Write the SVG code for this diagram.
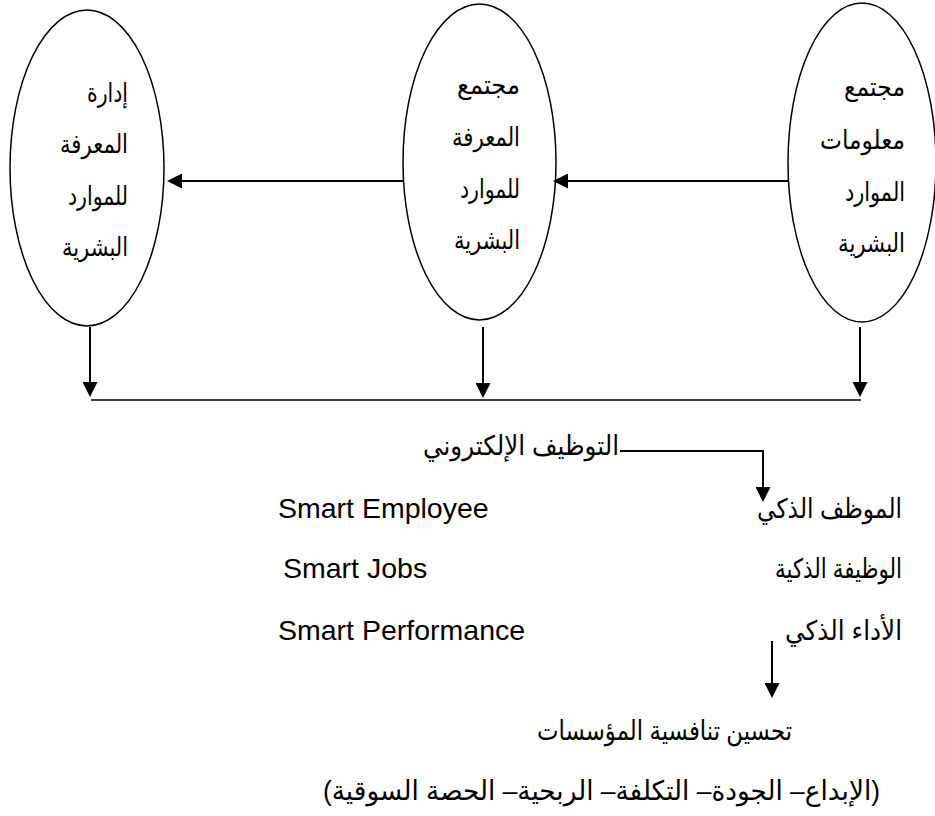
<svg xmlns="http://www.w3.org/2000/svg" width="935" height="816" viewBox="0 0 935 816">
  <defs>
    <marker id="head" markerUnits="userSpaceOnUse" markerWidth="15" markerHeight="15" viewBox="0 0 15 15" refX="13" refY="7.5" orient="auto">
      <path d="M0,0 L15,7.5 L0,15 Z" fill="#000"/>
    </marker>
    <style>
      .oval { fill: #fff; stroke: #000; stroke-width: 1.5; }
      .link { fill: none; stroke: #000; stroke-width: 2; marker-end: url(#head); }
      .rule { fill: none; stroke: #000; stroke-width: 1.5; }
      .ar { font-family: 'Liberation Sans', 'DejaVu Sans', sans-serif; font-size: 26px; fill: #000; direction: rtl; text-anchor: start; }
      .arb { font-family: 'Liberation Sans', 'DejaVu Sans', sans-serif; font-size: 27px; fill: #000; direction: rtl; text-anchor: start; }
      .en { font-family: 'Liberation Sans', Arial, sans-serif; font-size: 28.5px; fill: #000; }
    </style>
  </defs>

  <rect width="935" height="816" fill="#fff"/>

  <!-- three top ovals -->
  <g id="hr-knowledge-management">
    <ellipse class="oval" cx="87" cy="168" rx="77" ry="158"/>
    <text class="ar" x="128" y="102" textLength="41" lengthAdjust="spacingAndGlyphs">إدارة</text>
    <text class="ar" x="128" y="153" textLength="68" lengthAdjust="spacingAndGlyphs">المعرفة</text>
    <text class="ar" x="128" y="205" textLength="60" lengthAdjust="spacingAndGlyphs">للموارد</text>
    <text class="ar" x="128" y="256" textLength="66" lengthAdjust="spacingAndGlyphs">البشرية</text>
  </g>

  <g id="hr-knowledge-society">
    <ellipse class="oval" cx="479.5" cy="162" rx="76.5" ry="158"/>
    <text class="ar" x="520" y="94" textLength="63" lengthAdjust="spacingAndGlyphs">مجتمع</text>
    <text class="ar" x="520" y="146" textLength="68" lengthAdjust="spacingAndGlyphs">المعرفة</text>
    <text class="ar" x="520" y="198" textLength="60" lengthAdjust="spacingAndGlyphs">للموارد</text>
    <text class="ar" x="520" y="249" textLength="66" lengthAdjust="spacingAndGlyphs">البشرية</text>
  </g>

  <g id="hr-information-society">
    <ellipse class="oval" cx="862" cy="162.5" rx="74" ry="159.5"/>
    <text class="ar" x="905" y="96" textLength="61" lengthAdjust="spacingAndGlyphs">مجتمع</text>
    <text class="ar" x="905" y="149" textLength="85" lengthAdjust="spacingAndGlyphs">معلومات</text>
    <text class="ar" x="905" y="201" textLength="60" lengthAdjust="spacingAndGlyphs">الموارد</text>
    <text class="ar" x="905" y="252" textLength="67" lengthAdjust="spacingAndGlyphs">البشرية</text>
  </g>

  <!-- lower text blocks -->
  <g id="e-recruitment">
    <text class="arb" x="619" y="455" textLength="196" lengthAdjust="spacingAndGlyphs">التوظيف الإلكتروني</text>
  </g>

  <g id="smart-employee">
    <text class="arb" x="902" y="518" textLength="145" lengthAdjust="spacingAndGlyphs">الموظف الذكي</text>
    <text class="en" x="278" y="518">Smart Employee</text>
  </g>

  <g id="smart-jobs">
    <text class="arb" x="902" y="578" textLength="127" lengthAdjust="spacingAndGlyphs">الوظيفة الذكية</text>
    <text class="en" x="283" y="578">Smart Jobs</text>
  </g>

  <g id="smart-performance">
    <text class="arb" x="902" y="640" textLength="117" lengthAdjust="spacingAndGlyphs">الأداء الذكي</text>
    <text class="en" x="278" y="640">Smart Performance</text>
  </g>

  <g id="competitiveness">
    <text class="arb" x="792" y="740" textLength="255" lengthAdjust="spacingAndGlyphs">تحسين تنافسية المؤسسات</text>
  </g>

  <g id="competitiveness-factors">
    <text class="arb" x="880" y="800" textLength="557" lengthAdjust="spacingAndGlyphs">(الإبداع– الجودة– التكلفة– الربحية– الحصة السوقية)</text>
  </g>

  <!-- connectors -->
  <g id="connectors">
    <line class="link" x1="788" y1="181" x2="555" y2="181"/>
    <line class="link" x1="403" y1="181" x2="169" y2="181"/>
    <line class="link" x1="90" y1="327" x2="90" y2="395"/>
    <line class="link" x1="483" y1="327" x2="483" y2="396"/>
    <line class="link" x1="860" y1="327" x2="860" y2="395"/>
    <line class="rule" x1="91" y1="400" x2="861" y2="400"/>
    <polyline class="link" points="620,451 763,451 763,500"/>
    <line class="link" x1="772" y1="641" x2="772" y2="696"/>
  </g>
</svg>
